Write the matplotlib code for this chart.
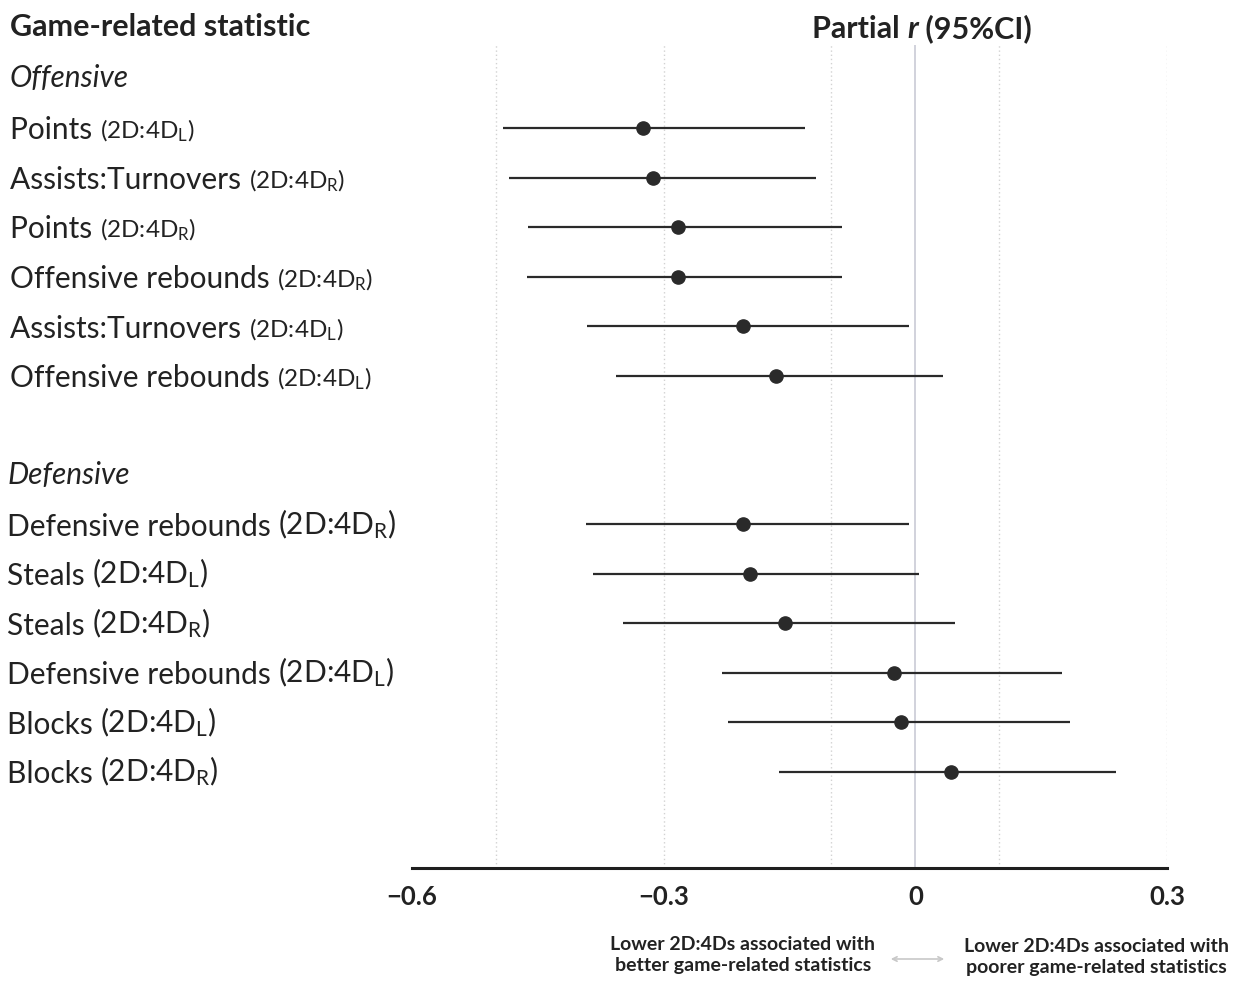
import matplotlib

matplotlib.use("Agg")
import matplotlib.pyplot as plt

# Forest plot data (partial r with 95% CI)
names = [
    "Points", "Assists:Turnovers", "Points", "Offensive rebounds",
    "Assists:Turnovers", "Offensive rebounds",
    "Defensive rebounds", "Steals", "Steals", "Defensive rebounds",
    "Blocks", "Blocks",
]
hands = ["L", "R", "R", "R", "L", "L", "R", "L", "R", "L", "L", "R"]
groups = ["Offensive"] * 6 + ["Defensive"] * 6
estimate = [-0.325, -0.313, -0.283, -0.283, -0.205, -0.166,
            -0.205, -0.197, -0.155, -0.025, -0.017, 0.042]
ci_low = [-0.492, -0.484, -0.462, -0.463, -0.391, -0.357,
          -0.393, -0.384, -0.348, -0.231, -0.223, -0.163]
ci_high = [-0.132, -0.119, -0.088, -0.088, -0.007, 0.033,
           -0.007, 0.004, 0.047, 0.175, 0.184, 0.239]
xticks = [-0.6, -0.3, 0.0, 0.3]
xtick_labels = ["\u22120.6", "\u22120.3", "0", "0.3"]
grid_x = [-0.5, -0.3, -0.1, 0.1, 0.3]

plt.rcParams["font.family"] = ["Lato", "DejaVu Sans"]
plt.rcParams["mathtext.fontset"] = "custom"
plt.rcParams["mathtext.rm"] = "Lato"
plt.rcParams["mathtext.it"] = "Lato:italic"
plt.rcParams["mathtext.bf"] = "Lato:bold"

TXT = "#222222"
MARK = "#2a2a2a"
W, H = 1233, 981
FS = 21.5

fig = plt.figure(figsize=(W / 100, H / 100), dpi=100)
ax = fig.add_axes([412 / W, 1 - 868 / H, (1167 - 412) / W, (868 - 45) / H])

# row index for each entry: header rows and a blank gap between groups
rows = []
r = 0
prev = None
for g in groups:
    if g != prev:
        if prev is not None:
            r += 1
        r += 1
        prev = g
    rows.append(r)
    r += 1
header_rows = {"Offensive": 0, "Defensive": rows[6] - 1}

ax.set_xlim(-0.6, 0.3)
ax.set_ylim(15.94, -0.676)
for gx in grid_x:
    ax.axvline(gx, color="#d2d2d2", lw=1, ls=(0, (1, 2)), zorder=0)
ax.axvline(0, color="#c9cbd6", lw=1.2, zorder=0)

ax.hlines(rows, ci_low, ci_high, color=MARK, lw=1.6, zorder=2)
ax.plot(estimate, rows, "o", color=MARK, ms=9.5, zorder=3)

for s in ["top", "right", "left"]:
    ax.spines[s].set_visible(False)
ax.spines["bottom"].set_linewidth(2.2)
ax.spines["bottom"].set_color("#1e1e1e")
ax.set_yticks([])
ax.set_xticks(xticks, xtick_labels)
ax.tick_params(axis="x", length=0, pad=12, labelsize=18.5, labelcolor=TXT)
for lbl in ax.get_xticklabels():
    lbl.set_fontweight("bold")

# left-hand labels
lab_tf = matplotlib.transforms.blended_transform_factory(fig.transFigure, ax.transData)
for g, hr in header_rows.items():
    x0 = 10 if g == "Offensive" else 8
    ax.text(x0 / W, hr, g, transform=lab_tf, fontsize=FS, style="italic",
            color=TXT, va="center", ha="left")

for name, hand, g, row in zip(names, hands, groups, rows):
    x0 = 10 if g == "Offensive" else 7
    small = 17.5 if g == "Offensive" else FS
    t = ax.text(x0 / W, row + 0.23, name + " ", transform=lab_tf, fontsize=FS,
                color=TXT, va="baseline", ha="left")
    ax.annotate("(2D:4D$_{\\mathregular{" + hand + "}}$)", xy=(1, 0),
                xycoords=t, xytext=(0, 0), textcoords="offset points",
                fontsize=small, color=TXT, va="bottom", ha="left")

# column headers
fig.text(10 / W, 1 - 27 / H, "Game-related statistic", fontsize=22,
         fontweight="bold", color=TXT, va="center", ha="left")
p1 = fig.text(812 / W, 1 - 29 / H, "Partial ", fontsize=22, fontweight="bold",
              color=TXT, va="center", ha="left")
p2 = ax.annotate("r", xy=(1, 0), xycoords=p1, xytext=(0, 0),
                 textcoords="offset points", fontsize=22, fontweight="bold",
                 style="italic", color=TXT, va="bottom", ha="left")
ax.annotate(" (95%CI)", xy=(1, 0), xycoords=p2, xytext=(0, 0),
            textcoords="offset points", fontsize=22, fontweight="bold",
            color=TXT, va="bottom", ha="left")

# direction note under the axis
fig.text(743 / W, 1 - 955 / H,
         "Lower 2D:4Ds associated with\nbetter game-related statistics",
         fontsize=14, fontweight="bold", color=TXT, ha="center",
         va="center", linespacing=1.25)
fig.text(1096 / W, 1 - 957 / H,
         "Lower 2D:4Ds associated with\npoorer game-related statistics",
         fontsize=14, fontweight="bold", color=TXT, ha="center",
         va="center", linespacing=1.25)
fig.patches.append(matplotlib.patches.FancyArrowPatch(
    (888 / W, 1 - 959 / H), (947 / W, 1 - 959 / H), transform=fig.transFigure,
    arrowstyle="<->", mutation_scale=8, color="#c8c8c8", lw=1.2))

fig.savefig("out.png", dpi=100)
